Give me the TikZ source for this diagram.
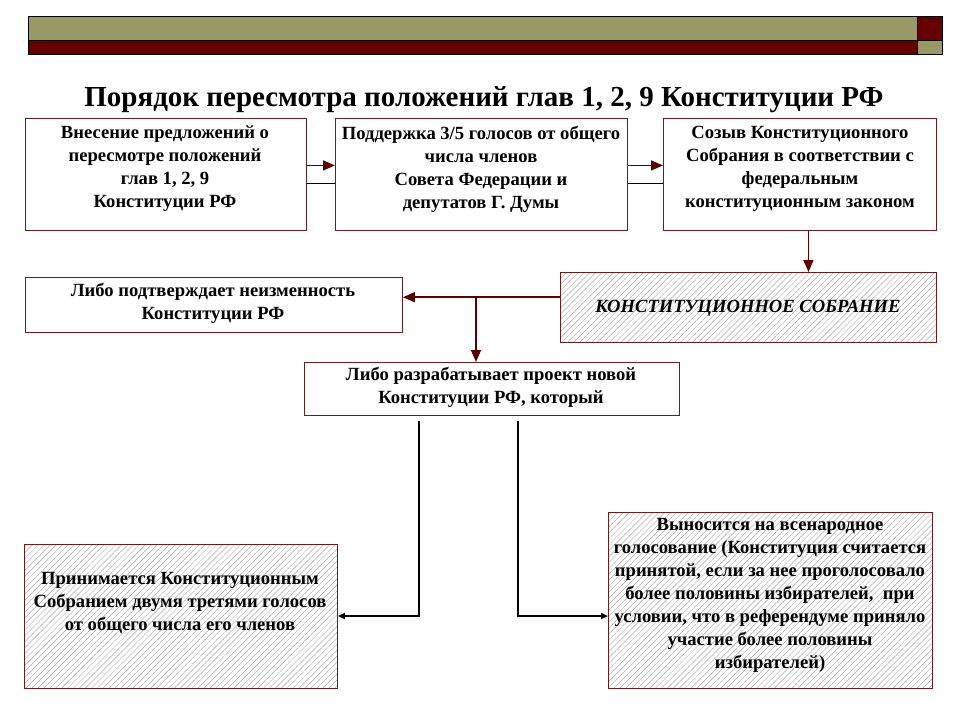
\documentclass[tikz,border=0pt]{standalone}
\usepackage{fontspec}
\setmainfont{Liberation Serif}
\usetikzlibrary{arrows.meta,patterns.meta}
\definecolor{olive}{RGB}{153,153,102}
\definecolor{dred}{RGB}{102,0,0}
\definecolor{bord}{RGB}{100,30,30}
\definecolor{arrc}{RGB}{90,0,0}
\definecolor{hatch}{RGB}{165,165,165}
\begin{document}
\begin{tikzpicture}[x=1pt,y=-1pt,
  box/.style={draw=bord, line width=0.9pt, fill=white, inner sep=0pt, anchor=north west},
  hbox/.style={draw=bord, line width=0.9pt, inner sep=0pt, anchor=north west,
    pattern={Lines[angle=45,distance=4.2pt,line width=0.45pt]}, pattern color=hatch},
  txt/.style={font=\bfseries\fontsize{18.6}{23}\selectfont, align=center, inner sep=0pt},
  arr/.style={draw=arrc, line width=1.6pt, -{Triangle[length=12pt,width=10pt]}},
  ln/.style={draw=black, line width=1.2pt},
  barr/.style={draw=black, line width=2.4pt, -{Triangle[length=7pt,width=6pt]}},
]
\useasboundingbox (0,0) rectangle (960,720);
% top bar
\fill[olive, draw=black, line width=0.8pt] (28,16) rectangle (917,40);
\fill[dred, draw=black, line width=0.8pt] (917,16) rectangle (942,40);
\fill[dred, draw=black, line width=0.8pt] (28,40) rectangle (917,54);
\fill[olive, draw=black, line width=0.8pt] (917,40) rectangle (942,54);
% title
\node[font=\bfseries\fontsize{29}{32}\selectfont, inner sep=0pt] (title) at (484,100)
  {Порядок пересмотра положений глав 1, 2, 9 Конституции РФ};
% top boxes
\node[box, minimum width=281pt, minimum height=112pt] (b1) at (25,118) {};
\node[box, minimum width=292pt, minimum height=112pt] (b2) at (335,118) {};
\node[box, minimum width=273pt, minimum height=112pt] (b3) at (663,118) {};
\node[txt] (t1) at (165,169) {Внесение предложений о\\пересмотре положений\\глав 1, 2, 9\\Конституции РФ};
\node[txt] (t2) at (481,169) {Поддержка 3/5 голосов от общего\\числа членов\\Совета Федерации и\\депутатов Г. Думы};
\node[txt] (t3) at (800,169) {Созыв Конституционного\\Собрания в соответствии с\\федеральным\\конституционным законом};
% middle
\node[hbox, minimum width=376pt, minimum height=70pt] (cs) at (560,272) {};
\node[font=\bfseries\itshape\fontsize{18.6}{20}\selectfont, inner sep=0pt] (cst) at (748,308) {КОНСТИТУЦИОННОЕ СОБРАНИЕ};
\node[box, minimum width=377pt, minimum height=55pt] (lb) at (25,277) {};
\node[txt] (lbt) at (213,303) {Либо подтверждает неизменность\\Конституции РФ};
\node[box, minimum width=375pt, minimum height=53pt] (b4) at (304,362) {};
\node[txt] (b4t) at (491,387) {Либо разрабатывает проект новой\\Конституции РФ, который};
% bottom boxes
\node[hbox, minimum width=313pt, minimum height=144pt] (bl) at (24,544) {};
\node[txt] (blt) at (180,603) {Принимается Конституционным\\Собранием двумя третями голосов\\от общего числа его членов};
\node[hbox, minimum width=324pt, minimum height=176pt] (brb) at (608,512) {};
\node[txt] (brt) at (770,595) {Выносится на всенародное\\голосование (Конституция считается\\принятой, если за нее проголосовало\\более половины избирателей,~ при\\условии, что в референдуме приняло\\участие более половины\\избирателей)};
% connectors
\draw[arr] ([yshift=9pt]b1.east) -- ([yshift=9pt]b2.west);
\draw[ln] ([yshift=-9pt]b1.east) -- ([yshift=-9pt]b2.west);
\draw[arr] ([yshift=9pt]b2.east) -- ([yshift=9pt]b3.west);
\draw[ln] ([yshift=-9pt]b2.east) -- ([yshift=-9pt]b3.west);
\draw[arr] ([xshift=8.5pt]b3.south) -- ([xshift=8.5pt]b3.south |- cs.north);
\draw[arr] ([yshift=10pt]cs.west) -- ([yshift=10pt]cs.west -| lb.east);
\coordinate (br) at (476,297);
\draw[arr] (br) -- (br |- b4.north);
\coordinate (l1) at (419,421);
\coordinate (l2) at (419,616);
\draw[barr] (l1) -- (l2) -- (l2 -| bl.east);
\coordinate (r1) at (518,421);
\coordinate (r2) at (518,616);
\draw[barr] (r1) -- (r2) -- (r2 -| brb.west);
\end{tikzpicture}
\end{document}
